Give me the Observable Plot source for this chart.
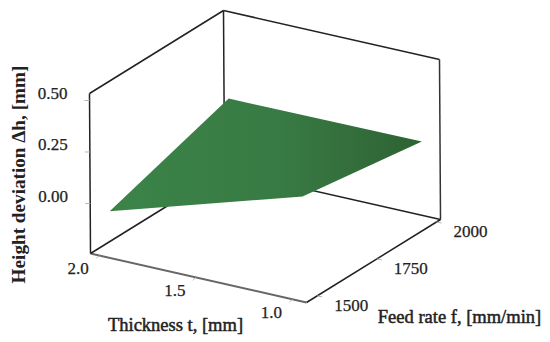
<!DOCTYPE html>
<html>
<head>
<meta charset="utf-8">
<script src="https://cdn.jsdelivr.net/npm/d3@7"></script>
<script src="https://cdn.jsdelivr.net/npm/@observablehq/plot@0.6"></script>
<style>html,body{margin:0;padding:0;background:#fff}svg{display:block}</style>
</head>
<body>
<div id="chart"></div>
<script>
// Data
const thicknessTicks = [2.0, 1.5, 1.0];
const feedTicks = [1500, 1750, 2000];
const heightTicks = [0.00, 0.25, 0.50];

// Box extents of the 3D axes
const thicknessBox = [2.045, 0.927];
const feedBox = [1455, 2017];
const heightBox = [-0.243, 0.534];

// Response surface corners
const surfaceThickness = [2.0, 1.0, 1.0, 2.0];
const surfaceFeed = [1500, 1500, 2000, 2000];
const surfaceHeight = [-0.061, 0.224, 0.132, 0.128];

// Orthographic view of the (t, f, h) box
const uScale = d3.scaleLinear().domain(thicknessBox).range([0, 1]);
const vScale = d3.scaleLinear().domain(feedBox).range([0, 1]);
const wScale = d3.scaleLinear().domain(heightBox).range([0, 1]);
const origin = [90, 253], uAxis = [216, 49], vAxis = [134, -83], wAxis = [-1, -160];
const project = (t, f, h) => {
  const u = uScale(t), v = vScale(f), w = wScale(h);
  return [0, 1].map(i => origin[i] + u * uAxis[i] + v * vAxis[i] + w * wAxis[i]);
};

const [t0, t1] = thicknessBox, [f0, f1] = feedBox, [h0, h1] = heightBox;
const edge = (a, b, color, width) => ({a: project(...a), b: project(...b), color, width});
const ink = "#222";
const edges = [
  edge([t0,f0,h0],[t0,f0,h1],ink,1.5),
  edge([t0,f0,h1],[t0,f1,h1],ink,1.5),
  edge([t0,f1,h1],[t1,f1,h1],ink,1.5),
  edge([t1,f1,h1],[t1,f1,h0],"#333",1.5),
  edge([t1,f1,h0],[t1,f0,h0],ink,1.5),
  edge([t1,f0,h0],[t0,f0,h0],"#666",1.9),
  edge([t0,f0,h0],[t0,f1,h0],ink,1.5),
  edge([t0,f1,h0],[t1,f1,h0],ink,1.5),
  edge([t0,f1,h0],[t0,f1,h1],ink,1.5)
];

const surface = surfaceThickness.map((t, i) => project(t, surfaceFeed[i], surfaceHeight[i]));

const heightRows = heightTicks.map(h => ({label: h.toFixed(2), p: project(t0, f0, h)}));
const thicknessRows = thicknessTicks.map(t => ({label: t.toFixed(1), p: project(t, f0, h0)}));
const feedRows = feedTicks.map(f => ({label: String(f), p: project(t1, f, h0)}));

const gradient = () => {
  const defs = d3.create("svg:defs");
  const g = defs.append("linearGradient").attr("id", "surfaceFill");
  g.append("stop").attr("offset", "0%").attr("stop-color", "#3b8448");
  g.append("stop").attr("offset", "55%").attr("stop-color", "#387a44");
  g.append("stop").attr("offset", "100%").attr("stop-color", "#2e6233");
  return defs.node();
};

const serif = "'Liberation Serif', serif";
const tickLink = (rows, dx, dy) => Plot.link(rows, {
  x1: d => d.p[0], y1: d => d.p[1],
  x2: d => d.p[0] + dx, y2: d => d.p[1] + dy,
  stroke: "#b5b5b5", strokeWidth: 1
});
const tickText = (rows, dx, dy) => Plot.text(rows, {
  x: d => d.p[0], y: d => d.p[1], text: "label", dx, dy,
  fontSize: 17, fill: "#222", fontFamily: serif, fontWeight: "normal",
  stroke: "#222", strokeWidth: 0.25
});
const titleText = (label, x, y, size, weight, rotate) => Plot.text([label], {
  x: [x], y: [y], text: d => d, rotate,
  fontSize: size, fontWeight: weight, fill: "#222", fontFamily: serif,
  stroke: weight === "bold" ? "none" : "#222", strokeWidth: 0.5
});

const chart = Plot.plot({
  width: 550,
  height: 342,
  margin: 0,
  style: {background: "#fff", fontFamily: serif},
  x: {domain: [0, 550], range: [0, 550], axis: null},
  y: {domain: [0, 342], range: [0, 342], axis: null},
  marks: [
    gradient,
    Plot.link(edges, {
      x1: d => d.a[0], y1: d => d.a[1], x2: d => d.b[0], y2: d => d.b[1],
      stroke: d => d.color, strokeWidth: d => d.width
    }),
    tickLink(heightRows, -5, 0),
    tickLink(thicknessRows, -3, 3),
    tickLink(feedRows, 5, 1),
    Plot.line(surface, {x: d => d[0], y: d => d[1], fill: "url(#surfaceFill)", stroke: "none"}),
    tickText(heightRows, -37, -7),
    tickText(thicknessRows, -21, 13),
    tickText(feedRows, 34, 10),
    titleText("Height deviation Δh, [mm]", 18, 174, 19.2, "bold", -90),
    titleText("Thickness t, [mm]", 175, 325, 18.5, "normal", 0),
    titleText("Feed rate f, [mm/min]", 459, 317, 18.5, "normal", 0)
  ]
});
document.getElementById("chart").append(chart);
</script>
</body>
</html>
